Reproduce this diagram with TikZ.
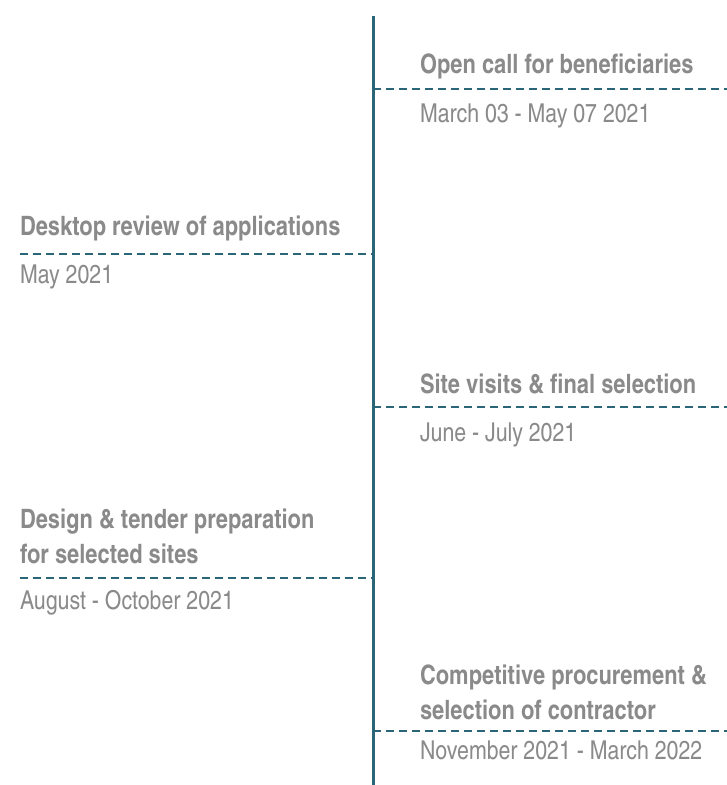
\documentclass[tikz,border=0pt]{standalone}
\usepackage{fontspec}
\newfontfamily\titlefont{texgyreheroscn-bold.otf}
\newfontfamily\datefont{texgyreheroscn-regular.otf}
\definecolor{axisteal}{HTML}{2B6578}
\definecolor{labelgray}{HTML}{8A8A8A}
\begin{document}
\begin{tikzpicture}[x=1pt,y=-1pt,
  phase/.style={anchor=base west,inner sep=0pt,outer sep=0pt,text=labelgray,
    font=\titlefont\fontsize{26.7}{35}\selectfont,align=left},
  when/.style={anchor=base west,inner sep=0pt,outer sep=0pt,text=labelgray,
    font=\datefont\fontsize{26}{30}\selectfont},
  guide/.style={draw=axisteal,line width=1.4pt,dash pattern=on 8pt off 5pt},
  axis/.style={draw=axisteal,line width=3pt}]
\useasboundingbox (0,0) rectangle (727,785);

% central time axis
\coordinate (axtop) at (373,16);
\coordinate (axbot) at (373,785);
\draw[axis] (axtop) -- (axbot);

% phase 1 (right); titles are placed by the baseline of their last line
\node[phase] (t1) at (420,73) {Open call for beneficiaries};
\coordinate (g1a) at (373,89);
\coordinate (g1b) at (727,89);
\draw[guide] (g1a) -- (g1b);
\node[when] (d1) at (420,122) {March 03 - May 07 2021};

% phase 2 (left)
\node[phase] (t2) at (20,235) {Desktop review of applications};
\coordinate (g2a) at (20,254);
\coordinate (g2b) at (373,254);
\draw[guide] (g2a) -- (g2b);
\node[when] (d2) at (20,283) {May 2021};

% phase 3 (right)
\node[phase] (t3) at (420,393) {Site visits \& final selection};
\coordinate (g3a) at (373,407);
\coordinate (g3b) at (727,407);
\draw[guide] (g3a) -- (g3b);
\node[when] (d3) at (420,441) {June - July 2021};

% phase 4 (left)
\node[phase] (t4) at (20,563) {Design \& tender preparation\\for selected sites};
\coordinate (g4a) at (20,578);
\coordinate (g4b) at (373,578);
\draw[guide] (g4a) -- (g4b);
\node[when] (d4) at (20,609) {August - October 2021};

% phase 5 (right)
\node[phase] (t5) at (420,719) {Competitive procurement \&\\selection of contractor};
\coordinate (g5a) at (373,731);
\coordinate (g5b) at (727,731);
\draw[guide] (g5a) -- (g5b);
\node[when] (d5) at (420,759) {November 2021 - March 2022};
\end{tikzpicture}
\end{document}
